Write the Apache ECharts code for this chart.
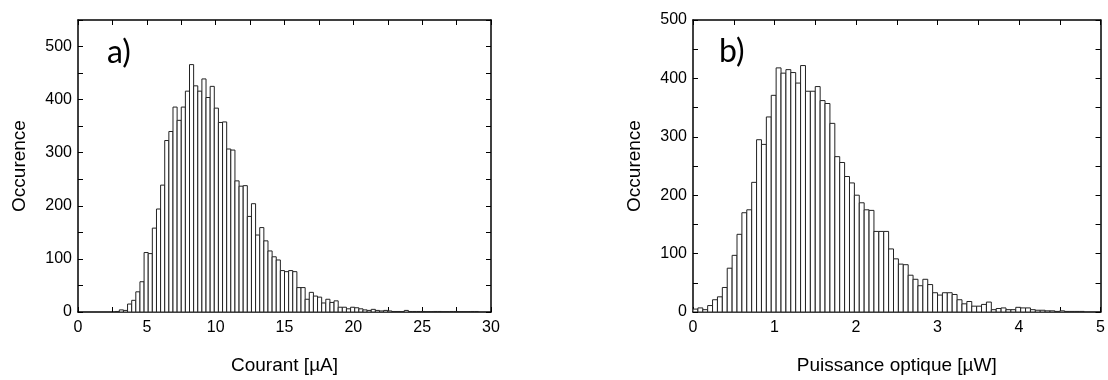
<!DOCTYPE html>
<html>
<head>
<meta charset="utf-8">
<script src="https://cdn.jsdelivr.net/npm/echarts@6/dist/echarts.min.js"></script>
<style>
html,body{margin:0;padding:0;background:#fff;}
#chart{width:1108px;height:380px;}
</style>
</head>
<body>
<div id="chart"></div>
<script>
// Panel a) : current histogram (bin start, bin width, counts)
const currentBinStart = 2.7;
const currentBinWidth = 0.3;
const currentCounts = [
  1, 4, 3, 15, 22, 38, 57, 112, 110, 158,
  194, 239, 323, 340, 386, 361, 386, 416, 466, 426,
  416, 439, 404, 425, 384, 357, 358, 307, 305, 247,
  237, 238, 180, 204, 145, 159, 134, 115, 104, 98,
  78, 76, 78, 76, 46, 46, 24, 37, 30, 28,
  17, 24, 18, 21, 9, 9, 6, 9, 8, 6,
  4, 3, 5, 3, 2, 3, 2, 1, 1, 0,
  3, 1, 1, 1, 1, 0, 0, 1, 1, 0,
  0, 1, 1, 0, 0, 0, 1, 1
];
// Panel b) : optical power histogram
const powerBinStart = 0;
const powerBinWidth = 0.06;
const powerCounts = [
  5, 7, 4, 11, 21, 26, 42, 75, 97, 133,
  170, 175, 222, 295, 287, 334, 371, 418, 409, 415,
  410, 392, 422, 378, 378, 386, 362, 357, 323, 266,
  256, 232, 221, 200, 187, 175, 174, 138, 138, 138,
  108, 91, 82, 81, 63, 56, 45, 56, 47, 33,
  29, 33, 33, 30, 21, 14, 18, 10, 10, 13,
  17, 4, 6, 7, 4, 4, 8, 7, 7, 4,
  3, 3, 2, 2, 1, 2, 1, 1, 1, 1
];
const xTitles = ['Courant [\u00b5A]', 'Puissance optique [\u00b5W]'];
const yTitle = 'Occurence';
const panelLabels = ['a)', 'b)'];

const FONT = '"Liberation Sans", Arial, sans-serif';

function histData(start, w, counts) {
  return counts.map((c, i) => [start + i * w, c]);
}
function renderHist(w) {
  return function (params, api) {
    const x0 = api.value(0), y = api.value(1);
    const p0 = api.coord([x0, 0]);
    const p1 = api.coord([x0 + w, y]);
    return {
      type: 'rect',
      shape: { x: p0[0], y: p1[1], width: p1[0] - p0[0], height: p0[1] - p1[1] },
      style: { fill: '#ffffff', stroke: '#222222', lineWidth: 1 }
    };
  };
}

const axisLine = { show: true, onZero: false, lineStyle: { color: '#000', width: 1.5 } };
const tick = { show: true, inside: true, length: 5, lineStyle: { color: '#000', width: 1 } };
const minor = { show: true, splitNumber: 2, length: 5, lineStyle: { color: '#000', width: 1 } };

function xAxes(gi, max, interval, name) {
  return [
    { gridIndex: gi, type: 'value', position: 'bottom', min: 0, max: max, interval: interval,
      axisLine: axisLine, axisTick: tick, minorTick: minor,
      splitLine: { show: false },
      axisLabel: { color: '#000', fontFamily: FONT, fontSize: 16, margin: 8 },
      name: name, nameLocation: 'middle', nameGap: 44,
      nameTextStyle: { color: '#000', fontFamily: FONT, fontSize: 19 } },
    { gridIndex: gi, type: 'value', position: 'top', min: 0, max: max, interval: interval,
      axisLine: axisLine, axisTick: tick, minorTick: minor,
      splitLine: { show: false }, axisLabel: { show: false } }
  ];
}
function yAxes(gi, max) {
  return [
    { gridIndex: gi, type: 'value', position: 'left', min: 0, max: max, interval: 100,
      axisLine: axisLine, axisTick: tick, minorTick: minor, splitLine: { show: false },
      axisLabel: { color: '#000', fontFamily: FONT, fontSize: 16, margin: 6,
        formatter: v => (v % 100 === 0 && v <= 500) ? String(v) : '' },
      name: yTitle, nameLocation: 'middle', nameGap: 49,
      nameTextStyle: { color: '#000', fontFamily: FONT, fontSize: 19 } },
    { gridIndex: gi, type: 'value', position: 'right', min: 0, max: max, interval: 100,
      axisLine: axisLine, axisTick: tick, minorTick: minor, splitLine: { show: false },
      axisLabel: { show: false } }
  ];
}

const chart = echarts.init(document.getElementById('chart'), null, { renderer: 'canvas' });
chart.setOption({
  backgroundColor: '#ffffff',
  animation: false,
  grid: [
    { left: 78, top: 20, width: 413, height: 302 },
    { left: 693, top: 20, width: 412, height: 302 }
  ],
  xAxis: [].concat(xAxes(0, 30, 5, xTitles[0]), xAxes(1, 5, 1, xTitles[1])),
  yAxis: [].concat(yAxes(0, 550), yAxes(1, 500)),
  series: [
    { type: 'custom', xAxisIndex: 0, yAxisIndex: 0, clip: true,
      renderItem: renderHist(currentBinWidth),
      data: histData(currentBinStart, currentBinWidth, currentCounts) },
    { type: 'custom', xAxisIndex: 2, yAxisIndex: 2, clip: true,
      renderItem: renderHist(powerBinWidth),
      data: histData(powerBinStart, powerBinWidth, powerCounts) }
  ],
  graphic: [
    { type: 'text', left: 107, top: 37, style: { text: panelLabels[0], fill: '#000',
      font: '32px Lato, "Open Sans", sans-serif' } },
    { type: 'text', left: 719, top: 36, style: { text: panelLabels[1], fill: '#000',
      font: '32px Lato, "Open Sans", sans-serif' } }
  ]
});
</script>
</body>
</html>
